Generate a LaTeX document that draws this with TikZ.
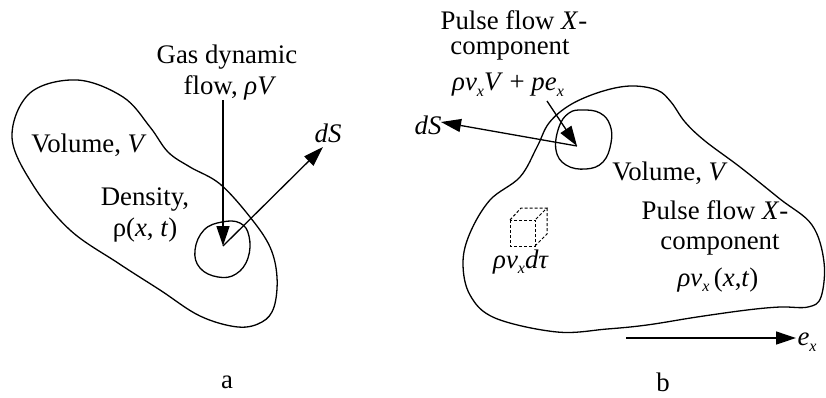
\documentclass[tikz,border=0pt]{standalone}
\usepackage{fontspec}
\setmainfont{Liberation Serif}
\usetikzlibrary{arrows.meta}
\newcommand{\lowx}{\raisebox{-0.45ex}{\footnotesize\textit{x}}}
\begin{document}
\begin{tikzpicture}[x=0.5pt,y=-0.5pt,
  line width=0.65pt,
  txt/.style={font=\fontsize{13.4}{15}\selectfont, inner sep=0pt, align=center},
  arr/.style={-{Triangle[length=10pt,width=6.5pt]}},
  cubeline/.style={dashed, dash pattern=on 1.5pt off 1pt, line width=0.5pt}]
\useasboundingbox (0,0) rectangle (826,397);

% ---------- figure a ----------
\draw plot[smooth cycle, tension=0.6] coordinates {
 (12,137) (30,93) (77,80) (123,97) (150,127) (168,152) (190,167) (220,184)
 (250,217) (270,247) (277,277) (274,307) (262,322) (238,327) (200,316)
 (160,290) (118,263) (70,230) (33,185)};
\draw plot[smooth cycle, tension=0.7] coordinates {
 (222,222) (240,223) (249,236) (248,258) (236,274) (218,277) (200,268) (195,250) (204,230)};

\node[txt] (gas) at (227,57) {Gas dynamic};
\node[txt] (flowa) at (230,88) {flow, \textit{ρV}};
\node[txt] (vola) at (89,145) {Volume, \textit{V}};
\node[txt] (dens) at (145,200) {Density,};
\node[txt] (rhoa) at (145,230) {ρ(\textit{x}, \textit{t})};
\node[txt] (dsa) at (328,133) {\textit{dS}};
\node[txt] (la) at (227,382) {a};

\coordinate (topa) at (223,100);
\coordinate (ca) at (223,246);
\coordinate (tipdsa) at (323,147);
\draw[arr] (topa) -- (ca);
\draw[arr] (ca) -- (tipdsa);

% ---------- figure b ----------
\draw plot[smooth cycle, tension=0.6] coordinates {
 (463,263) (470,233) (490,200) (520,177) (537,147) (549,123) (570,105) (600,92)
 (630,86) (657,90) (671,102) (685,122) (705,141) (740,167) (780,199) (812,225)
 (824,262) (821,297) (808,307) (780,307) (747,310) (697,317) (647,325)
 (607,329) (557,332) (495,318) (470,295)};
\draw plot[smooth cycle, tension=0.7] coordinates {
 (583,110) (600,113) (610,125) (611,143) (603,162) (586,169) (566,165) (556,150) (559,127) (569,113)};

\node[txt] (pf1) at (514,20) {Pulse flow \textit{X}-};
\node[txt] (cp1) at (510,50) {component};
\node[txt] (eq1) at (508,85) {\textit{ρv}\lowx\textit{V} + \textit{pe}\lowx};
\node[txt] (dsb) at (428,125) {\textit{dS}};
\node[txt] (volb) at (670,173) {Volume, \textit{V}};
\node[txt] (pf2) at (715,210) {Pulse flow \textit{X}-};
\node[txt] (cp2) at (720,245) {component};
\node[txt] (eq2) at (718,280) {\textit{ρv}\lowx\,(\textit{x},\textit{t})};
\node[txt] (eq3) at (521,262) {\textit{ρv}\lowx\textit{dτ}};
\node[txt] (exl) at (807,342) {\textit{e}\lowx};
\node[txt] (lb) at (663,382) {b};

\coordinate (cb) at (577,146);
\coordinate (sarr) at (547,101);
\coordinate (tipdsb) at (441,122);
\coordinate (exs) at (626,338);
\coordinate (exe) at (796,338);
\draw[arr] (cb) -- (tipdsb);
\draw[arr] (sarr) -- (cb);
\draw[arr] (exs) -- (exe);

% cube
\draw[cubeline] (510,220) rectangle (535,246);
\draw[cubeline] (510,220) -- (521,208) -- (547,208) -- (535,220);
\draw[cubeline] (547,208) -- (547,234) -- (535,246);
\end{tikzpicture}
\end{document}
